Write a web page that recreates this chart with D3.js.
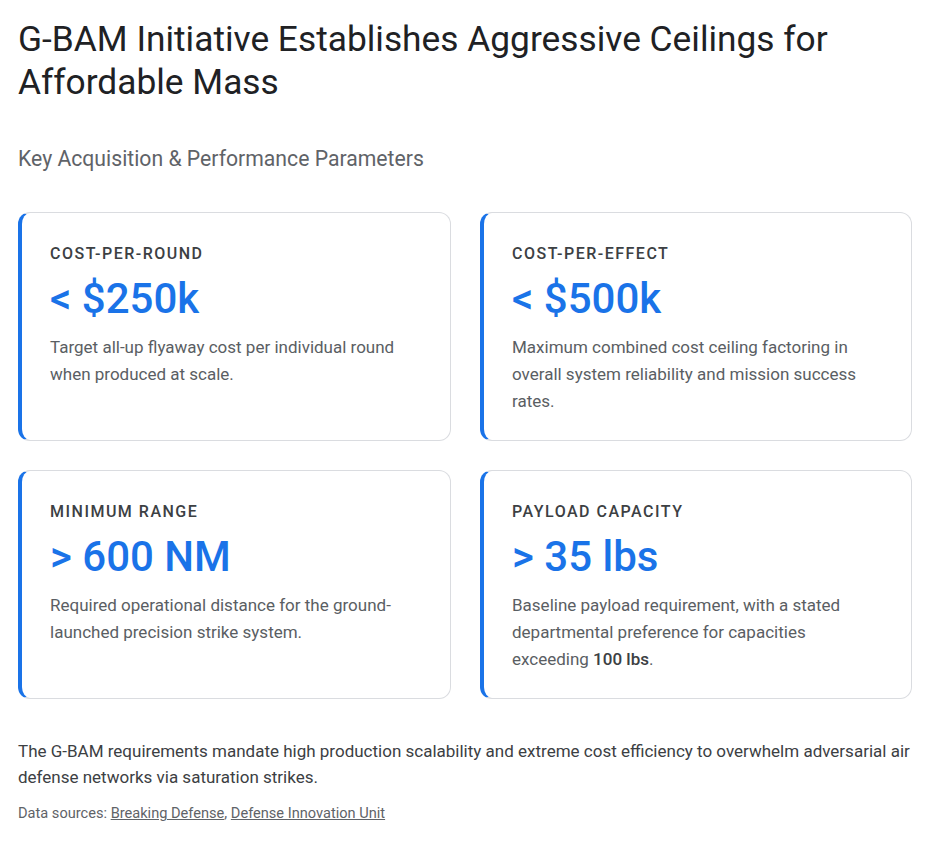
<!DOCTYPE html>
<html>
<head>
<meta charset="utf-8">
<script src="https://cdn.jsdelivr.net/npm/d3@7"></script>
<style>
  html, body { margin: 0; padding: 0; background: #ffffff; }
  body { width: 931px; height: 842px; overflow: hidden; font-family: "Google Sans", Roboto, "Open Sans", Arial, sans-serif; }
  #root { position: absolute; left: 18px; top: 0; width: 894px; }
  h1 { margin: 0; position: absolute; top: 18px; left: 0; width: 894px; font-weight: 400; font-size: 35.3px; line-height: 43px; color: #202124; letter-spacing: 0; }
  h2 { margin: 0; position: absolute; top: 145px; left: 0; font-weight: 400; font-size: 21.2px; line-height: 28px; color: #5f6368; }
  .grid { position: absolute; top: 212px; left: 0; width: 894px; display: grid; grid-template-columns: 433px 432px; column-gap: 29px; row-gap: 29px; }
  .card { box-sizing: border-box; background: #fff; border: 1px solid #dadce0; border-left: 4px solid #1a73e8; border-radius: 12px; padding: 31px 28px 25px 28px; }
  .label { font-size: 16px; line-height: 20px; letter-spacing: 1.5px; color: #3c4043; font-weight: 500; }
  .value { margin-top: 11px; font-size: 42px; line-height: 48px; font-weight: 500; color: #1a73e8; }
  .desc { margin-top: 11px; font-size: 17px; line-height: 27px; color: #5a5e63; white-space: nowrap; }
  .desc b { font-weight: 500; color: #3c4043; }
  .note { position: absolute; top: 738px; left: 0; width: 894px; font-size: 17px; line-height: 26px; color: #3c4043; }
  .src { position: absolute; top: 803px; left: 0; font-size: 14.6px; line-height: 20px; color: #5f6368; }
  .src a { color: #5f6368; text-decoration: underline; }
</style>
</head>
<body>
<div id="root"></div>
<script>
const titleText = "G-BAM Initiative Establishes Aggressive Ceilings for Affordable Mass";
const subtitleText = "Key Acquisition & Performance Parameters";
const metricLabels = ["COST-PER-ROUND", "COST-PER-EFFECT", "MINIMUM RANGE", "PAYLOAD CAPACITY"];
const metricValues = ["< $250k", "< $500k", "> 600 NM", "> 35 lbs"];
// description lines, as wrapped in the reference
const metricDescriptions = [
  [["Target all-up flyaway cost per individual round"], ["when produced at scale."]],
  [["Maximum combined cost ceiling factoring in"], ["overall system reliability and mission success"], ["rates."]],
  [["Required operational distance for the ground-"], ["launched precision strike system."]],
  [["Baseline payload requirement, with a stated"], ["departmental preference for capacities"], ["exceeding ", {b: "100 lbs"}, "."]]
];
const noteText = "The G-BAM requirements mandate high production scalability and extreme cost efficiency to overwhelm adversarial air defense networks via saturation strikes.";
const sourceNames = ["Breaking Defense", "Defense Innovation Unit"];

const root = d3.select("#root");
root.append("h1").text(titleText);
root.append("h2").text(subtitleText);

const cards = metricLabels.map((l, i) => ({label: l, value: metricValues[i], desc: metricDescriptions[i]}));
const grid = root.append("div").attr("class", "grid");
const card = grid.selectAll(".card").data(cards).join("div").attr("class", "card");
card.append("div").attr("class", "label").text(d => d.label);
card.append("div").attr("class", "value").text(d => d.value);
card.append("div").attr("class", "desc").each(function(d) {
  const el = d3.select(this);
  el.selectAll("div.line").data(d.desc).join("div").attr("class", "line").each(function(parts) {
    const ln = d3.select(this);
    parts.forEach(part => {
      if (typeof part === "string") ln.append("span").text(part);
      else ln.append("b").text(part.b);
    });
  });
});

root.append("div").attr("class", "note").text(noteText);
const src = root.append("div").attr("class", "src");
src.append("span").text("Data sources: ");
sourceNames.forEach((s, i) => {
  src.append("a").attr("href", "#").text(s);
  if (i < sourceNames.length - 1) src.append("span").text(", ");
});
</script>
</body>
</html>
